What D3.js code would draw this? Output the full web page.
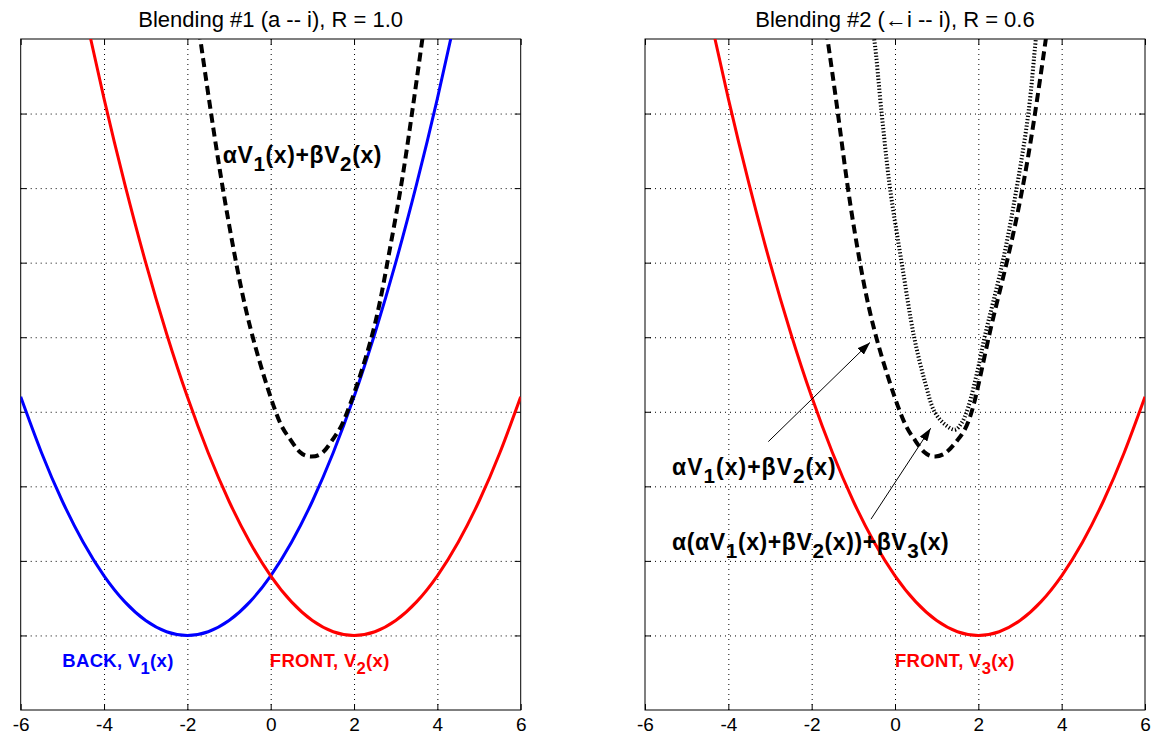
<!DOCTYPE html>
<html>
<head>
<meta charset="utf-8">
<script src="https://cdn.jsdelivr.net/npm/d3@7"></script>
<style>
  body { margin: 0; background: #fff; }
  svg { display: block; font-family: "Liberation Sans", Arial, sans-serif; }
</style>
</head>
<body>
<svg id="chart" width="1153" height="740"></svg>
<script>
// ---- data ----
const xTicks = [-6, -4, -2, 0, 2, 4, 6];
const yGrid = [1, 2, 3, 4, 5, 6, 7, 8];

const backX = [-6, -5.5, -5, -4.5, -4, -3.5, -3, -2.5, -2, -1.5, -1, -0.5, 0, 0.5, 1, 1.5, 2, 2.5, 3, 3.5, 4, 4.5];
const backV1 = [4.2, 3.45, 2.8, 2.25, 1.8, 1.45, 1.2, 1.05, 1.0, 1.05, 1.2, 1.45, 1.8, 2.25, 2.8, 3.45, 4.2, 5.05, 6.0, 7.05, 8.2, 9.45];

const frontX = [-4.5, -4, -3.5, -3, -2.5, -2, -1.5, -1, -0.5, 0, 0.5, 1, 1.5, 2, 2.5, 3, 3.5, 4, 4.5, 5, 5.5, 6];
const frontV = [9.45, 8.2, 7.05, 6.0, 5.05, 4.2, 3.45, 2.8, 2.25, 1.8, 1.45, 1.2, 1.05, 1.0, 1.05, 1.2, 1.45, 1.8, 2.25, 2.8, 3.45, 4.2];

// alpha V1 + beta V2, left panel
const blend1Left = [[-1.76, 9.3], [-1.69, 9], [-1.43, 8], [-1.15, 7], [-0.83, 6], [-0.43, 5], [0.12, 4], [0.42, 3.67], [0.7, 3.46], [0.98, 3.4], [1.26, 3.46], [1.54, 3.67], [1.84, 4], [2.42, 5], [2.80, 6], [3.12, 7], [3.39, 8], [3.64, 9], [3.71, 9.3]];
// alpha V1 + beta V2, right panel
const blend1Right = [[-1.70, 9.3], [-1.62, 9], [-1.37, 8], [-1.13, 7], [-0.84, 6], [-0.45, 5], [0.12, 4], [0.44, 3.65], [0.7, 3.46], [0.97, 3.4], [1.24, 3.46], [1.5, 3.62], [1.84, 4], [2.25, 5], [2.68, 6], [3.06, 7], [3.36, 8], [3.62, 9], [3.69, 9.3]];
// alpha(alpha V1 + beta V2) + beta V3
const blend2 = [[-0.6, 9.3], [-0.5, 9], [-0.32, 8], [-0.12, 7], [0.16, 6], [0.46, 5], [0.72, 4.4], [0.95, 4.0], [1.2, 3.83], [1.44, 3.76], [1.6, 3.85], [1.75, 4.05], [2.0, 4.6], [2.15, 5], [2.58, 6], [2.92, 7], [3.2, 8], [3.38, 9], [3.44, 9.3]];

const arrowsRight = [
  [[-3.04, 3.60], [-0.60, 4.93]],
  [[-0.576, 2.56], [0.857, 3.78]],
];

// ---- layout ----
const svg = d3.select("#chart");
const plotTop = 39, plotBottom = 710;
const panels = [
  { key: "L", left: 20.7, right: 520.7, title: "Blending #1 (a -- i), R = 1.0" },
  { key: "R", left: 645, right: 1145, title: "Blending #2 (\u2190i -- i), R = 0.6" },
];

const y = d3.scaleLinear().domain([0, 9]).range([plotBottom, plotTop]);

const defs = svg.append("defs");
defs.append("marker")
  .attr("id", "head")
  .attr("markerUnits", "userSpaceOnUse")
  .attr("markerWidth", 13)
  .attr("markerHeight", 9)
  .attr("refX", 13)
  .attr("refY", 4.5)
  .attr("orient", "auto")
  .append("path")
  .attr("d", "M0,0 L13,4.5 L0,9 Z")
  .attr("fill", "#000");

function addLabel(g, px, py, parts, color, size, subShift, spacing) {
  const t = g.append("text")
    .attr("x", px)
    .attr("y", py)
    .attr("fill", color)
    .attr("font-weight", "bold")
    .attr("font-size", size)
    .attr("letter-spacing", spacing || 0);
  let shifted = false;
  parts.forEach((p) => {
    if (typeof p === "string") {
      t.append("tspan").attr("dy", shifted ? -subShift : 0).text(p);
      shifted = false;
    } else {
      t.append("tspan").attr("dy", subShift).attr("font-size", size * 0.9).text(p.sub);
      shifted = true;
    }
  });
}

const labelAV = ["\u03b1V", { sub: "1" }, "(x)+\u03b2V", { sub: "2" }, "(x)"];

panels.forEach((p) => {
  const x = d3.scaleLinear().domain([-6, 6]).range([p.left, p.right]);
  const g = svg.append("g").attr("class", "panel-" + p.key);
  const innerH = plotBottom - plotTop;

  defs.append("clipPath").attr("id", "clip" + p.key)
    .append("rect")
    .attr("x", p.left).attr("y", plotTop)
    .attr("width", p.right - p.left).attr("height", innerH);

  // grid
  const gridX = g.append("g")
    .attr("transform", `translate(0,${plotBottom})`)
    .call(d3.axisBottom(x).tickValues(xTicks.slice(1, -1)).tickSize(-innerH).tickFormat(""));
  const gridY = g.append("g")
    .attr("transform", `translate(${p.left},0)`)
    .call(d3.axisLeft(y).tickValues(yGrid).tickSize(-(p.right - p.left)).tickFormat(""));
  [gridX, gridY].forEach((s) => {
    s.select(".domain").remove();
    s.selectAll("line")
      .attr("stroke", "#000")
      .attr("stroke-width", 1)
      .attr("stroke-dasharray", "1,4");
  });

  // inward tick marks
  const tk = 6;
  const axB = g.append("g").attr("transform", `translate(0,${plotBottom})`)
    .call(d3.axisBottom(x).tickValues(xTicks).tickSize(-tk).tickPadding(8).tickFormat((d) => String(d)));
  const axT = g.append("g").attr("transform", `translate(0,${plotTop})`)
    .call(d3.axisTop(x).tickValues(xTicks).tickSize(-tk).tickFormat(""));
  const axL = g.append("g").attr("transform", `translate(${p.left},0)`)
    .call(d3.axisLeft(y).tickValues(yGrid).tickSize(-tk).tickFormat(""));
  const axR = g.append("g").attr("transform", `translate(${p.right},0)`)
    .call(d3.axisRight(y).tickValues(yGrid).tickSize(-tk).tickFormat(""));
  [axB, axT, axL, axR].forEach((s) => {
    s.select(".domain").remove();
    s.selectAll("line").attr("stroke", "#000");
  });
  axB.selectAll("text")
    .attr("fill", "#000")
    .attr("font-size", 19)
    .attr("font-family", "Liberation Sans, Arial, sans-serif");

  // frame
  g.append("rect")
    .attr("x", p.left).attr("y", plotTop)
    .attr("width", p.right - p.left).attr("height", innerH)
    .attr("fill", "none")
    .attr("stroke", "#000")
    .attr("stroke-width", 1);

  // title
  g.append("text")
    .attr("x", (p.left + p.right) / 2)
    .attr("y", 27)
    .attr("text-anchor", "middle")
    .attr("font-size", 22)
    .attr("fill", "#000")
    .text(p.title);

  const curves = g.append("g").attr("clip-path", `url(#clip${p.key})`);
  const smooth = d3.line().x((d) => x(d[0])).y((d) => y(d[1])).curve(d3.curveNatural);
  const spline = d3.line().x((d) => x(d[0])).y((d) => y(d[1])).curve(d3.curveNatural);

  if (p.key === "L") {
    curves.append("path")
      .attr("d", smooth(d3.zip(backX, backV1)))
      .attr("fill", "none").attr("stroke", "#0000ff").attr("stroke-width", 3);
    curves.append("path")
      .attr("d", smooth(d3.zip(frontX, frontV)))
      .attr("fill", "none").attr("stroke", "#ff0000").attr("stroke-width", 3);
    curves.append("path")
      .attr("d", spline(blend1Left))
      .attr("fill", "none").attr("stroke", "#000").attr("stroke-width", 4)
      .attr("stroke-dasharray", "9,5");

    addLabel(g, x(-1.15), y(7.34), labelAV, "#000", 23, 8, 0.6);
    addLabel(g, x(-5.0), y(0.58), ["BACK, V", { sub: "1" }, "(x)"], "#0000ff", 18.5, 7, 0.3);
    addLabel(g, x(-0.02), y(0.58), ["FRONT, V", { sub: "2" }, "(x)"], "#ff0000", 18.5, 7, 0.3);
  } else {
    curves.append("path")
      .attr("d", smooth(d3.zip(frontX, frontV)))
      .attr("fill", "none").attr("stroke", "#ff0000").attr("stroke-width", 3);
    curves.append("path")
      .attr("d", spline(blend1Right))
      .attr("fill", "none").attr("stroke", "#000").attr("stroke-width", 4)
      .attr("stroke-dasharray", "9,5");
    curves.append("path")
      .attr("d", d3.line().x((d) => x(d[0])).y((d) => y(d[1])).curve(d3.curveCatmullRom.alpha(0.5))(blend2))
      .attr("fill", "none").attr("stroke", "#000").attr("stroke-width", 4)
      .attr("stroke-dasharray", "1.3,2");

    g.selectAll("line.arrow")
      .data(arrowsRight)
      .join("line")
      .attr("class", "arrow")
      .attr("x1", (d) => x(d[0][0])).attr("y1", (d) => y(d[0][1]))
      .attr("x2", (d) => x(d[1][0])).attr("y2", (d) => y(d[1][1]))
      .attr("stroke", "#000").attr("stroke-width", 1)
      .attr("marker-end", "url(#head)");

    addLabel(g, x(-5.35), y(3.15), labelAV, "#000", 23, 8, 1);
    addLabel(g, x(-5.35), y(2.14), ["\u03b1(\u03b1V", { sub: "1" }, "(x)+\u03b2V", { sub: "2" }, "(x))+\u03b2V", { sub: "3" }, "(x)"], "#000", 23, 8, 0.6);
    addLabel(g, x(0), y(0.58), ["FRONT, V", { sub: "3" }, "(x)"], "#ff0000", 18.5, 7, 0.3);
  }
});
</script>
</body>
</html>
